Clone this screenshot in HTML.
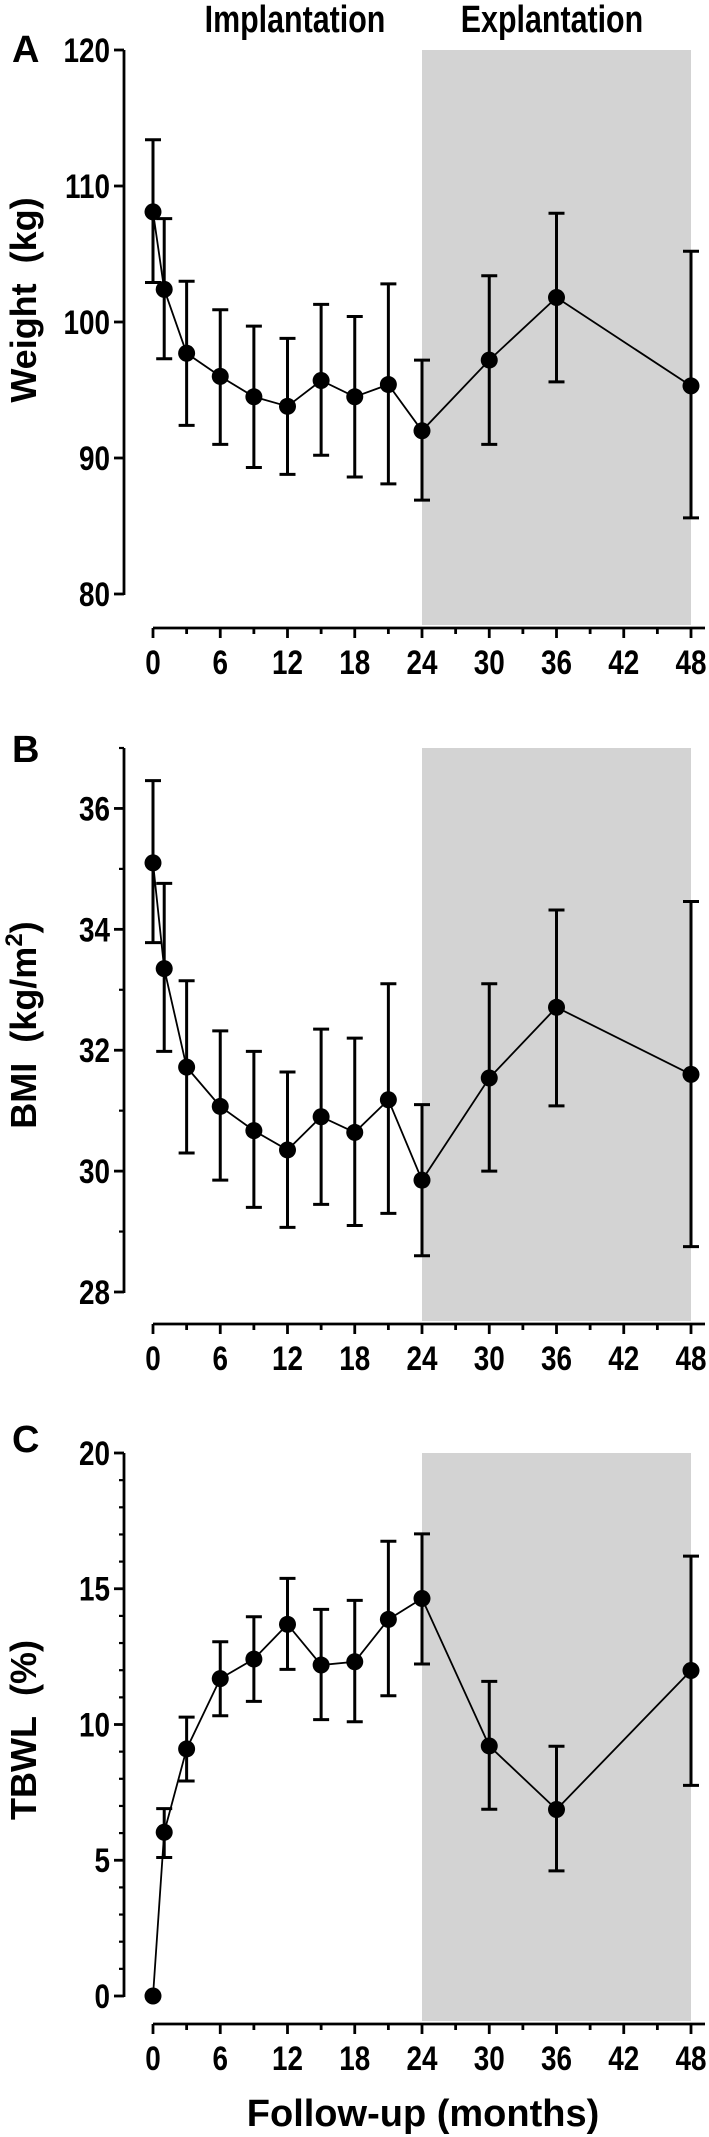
<!DOCTYPE html>
<html><head><meta charset="utf-8">
<style>
html,body{margin:0;padding:0;background:#fff;}
svg{display:block;}
text{font-family:"Liberation Sans",Arial,sans-serif;font-weight:bold;fill:#000;}
</style></head>
<body>
<svg id="fig" width="709" height="2137" viewBox="0 0 709 2137" xmlns="http://www.w3.org/2000/svg">
  <text x="295" y="32" font-size="38" text-anchor="middle" transform="translate(295 0) scale(0.8 1) translate(-295 0)">Implantation</text>
  <text x="552" y="32" font-size="38" text-anchor="middle" transform="translate(552 0) scale(0.8 1) translate(-552 0)">Explantation</text>
  <text x="423" y="2126" font-size="38" text-anchor="middle">Follow-up (months)</text>
</svg>
<script>
const months = [0,1,3,6,9,12,15,18,21,24,30,36,48];
const xTickLabels = [0,6,12,18,24,30,36,42,48];
const weightMean = [108.1,102.4,97.7,96.0,94.5,93.8,95.7,94.5,95.4,92.0,97.2,101.8,95.3];
const weightUpper = [113.4,107.6,103.0,100.9,99.7,98.8,101.3,100.4,102.8,97.2,103.4,108.0,105.2];
const weightLower = [102.9,97.3,92.4,91.0,89.3,88.8,90.2,88.6,88.1,86.9,91.0,95.6,85.6];
const bmiMean = [35.1,33.35,31.72,31.07,30.67,30.35,30.9,30.64,31.18,29.85,31.54,32.71,31.6];
const bmiUpper = [36.46,34.76,33.15,32.32,31.98,31.64,32.35,32.2,33.1,31.1,33.1,34.32,34.46];
const bmiLower = [33.78,31.98,30.3,29.85,29.4,29.07,29.45,29.1,29.3,28.6,30.0,31.08,28.75];
const tbwlMean = [0,6.03,9.1,11.69,12.41,13.69,12.19,12.31,13.87,14.64,9.21,6.87,11.99];
const tbwlUpper = [0,6.9,10.27,13.05,13.97,15.38,14.24,14.57,16.75,17.02,11.59,9.2,16.2];
const tbwlLower = [0,5.1,7.92,10.32,10.85,12.03,10.18,10.1,11.06,12.23,6.88,4.61,7.76];
const weightTicks = [80,90,100,110,120];
const bmiTicks = [28,30,32,34,36];
const tbwlTicks = [0,5,10,15,20];

const NS = "http://www.w3.org/2000/svg";
const svg = document.getElementById('fig');
function mk(tag, attrs, parent){
  const e = document.createElementNS(NS, tag);
  for (const k in attrs) e.setAttribute(k, attrs[k]);
  (parent||svg).appendChild(e); return e;
}
const X0 = 153, XS = (691-153)/48;
function xScale(m){ return X0 + m*XS; }

function panel(opt){
  const g = mk('g', {});
  
  
  const yScale = v => opt.yTop + (opt.max - v) * (opt.yBot - opt.yTop) / (opt.max - opt.min);
  const axisTop = yScale(opt.axisMax);
  const sh = mk('rect', {x: xScale(24), y: axisTop, width: xScale(48)-xScale(24), height: opt.xAxisY - 3 - axisTop, fill: '#d3d3d3'}, g);
  
  
  const ya = mk('line', {x1: 124, x2: 124, y1: axisTop, y2: opt.yBot + 1, stroke: '#000', 'stroke-width': 2.8}, g);
  
  
  opt.ticks.forEach(t => {
    const y = yScale(t);
    mk('line', {x1: 114, x2: 124, y1: y, y2: y, stroke: '#000', 'stroke-width': 2.8}, g);
    const tl = mk('text', {x: 110, y: y + 12, 'font-size': 34, 'text-anchor': 'end', transform: `translate(110 0) scale(0.82 1) translate(-110 0)`}, g);
    tl.textContent = t;
    
    
  });
  (opt.minor||[]).forEach(t => {
    const y = yScale(t);
    mk('line', {x1: 119, x2: 124, y1: y, y2: y, stroke: '#000', 'stroke-width': 2.2}, g);
  });
  const xa = mk('line', {x1: xScale(0), x2: 705, y1: opt.xAxisY, y2: opt.xAxisY, stroke: '#000', 'stroke-width': 2.8}, g);
  
  
  for (let m = 0; m <= 48; m += 3) {
    const major = m % 6 === 0;
    mk('line', {x1: xScale(m), x2: xScale(m), y1: opt.xAxisY, y2: opt.xAxisY + (major ? 10 : 6), stroke: '#000', 'stroke-width': 2.8}, g);
  }
  xTickLabels.forEach(m => {
    const tl = mk('text', {x: xScale(m), y: opt.xAxisY + 46, 'font-size': 34, 'text-anchor': 'middle', transform: `translate(${xScale(m)} 0) scale(0.82 1) translate(${-xScale(m)} 0)`}, g);
    tl.textContent = m;
    
    
  });
  const pts = months.map((m,i) => `${xScale(m)},${yScale(opt.mean[i])}`).join(' ');
  const pl = mk('polyline', {points: pts, fill: 'none', stroke: '#000', 'stroke-width': 1.8}, g);
  
  
  months.forEach((m,i) => {
    const x = xScale(m);
    if (opt.up[i] !== opt.lo[i]) {
      const eb = mk('path', {d: `M${x},${yScale(opt.up[i])}V${yScale(opt.lo[i])}M${x-8},${yScale(opt.up[i])}h16M${x-8},${yScale(opt.lo[i])}h16`, stroke: '#000', 'stroke-width': 3, fill: 'none'}, g);
      
      
    }
    const c = mk('circle', {cx: x, cy: yScale(opt.mean[i]), r: 8.5, fill: '#000'}, g);
    
    
  });
  const pLbl = mk('text', {x: 12, y: opt.letterY, 'font-size': 38}, g);
  pLbl.textContent = opt.letter;
  
  
  const yt = mk('text', {x: 0, y: 0, 'font-size': 36, 'text-anchor': 'middle', transform: `translate(36 ${opt.titleY}) rotate(-90)`}, g);
  
  
  yt.innerHTML = opt.title;
}

panel({name:'weight-panel', letter:'A', letterY:62, min:80, max:120, axisMax:120, yTop:50, yBot:594, xAxisY:628,
  ticks: weightTicks, mean: weightMean, up: weightUpper, lo: weightLower, title:'Weight&#160;&#160;(kg)', titleY:300});
panel({name:'bmi-panel', letter:'B', letterY:762, min:28, max:37, axisMax:37, yTop:748, yBot:1292, xAxisY:1324,
  ticks: bmiTicks, minor:[29,31,33,35,37], mean: bmiMean, up: bmiUpper, lo: bmiLower,
  title:'BMI&#160;&#160;(kg/m<tspan dy="-14" font-size="24">2</tspan><tspan dy="14">)</tspan>', titleY:1025});
panel({name:'tbwl-panel', letter:'C', letterY:1452, min:0, max:20, axisMax:20, yTop:1453, yBot:1996, xAxisY:2024,
  ticks: tbwlTicks, minor:[1,2,3,4,6,7,8,9,11,12,13,14,16,17,18,19], mean: tbwlMean, up: tbwlUpper, lo: tbwlLower,
  title:'TBWL&#160;&#160;(%)', titleY:1730});
</script>
</body></html>
